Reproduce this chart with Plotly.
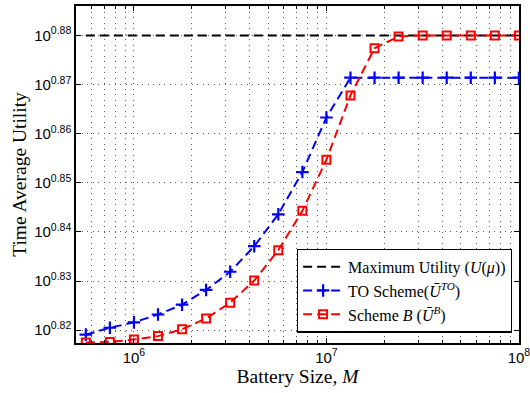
import numpy as np
import plotly.graph_objects as go

# Battery sizes M (log-spaced, 10^5.75 ... 10^8)
battery_exp = [5.75, 5.875, 6.0, 6.125, 6.25, 6.375, 6.5, 6.625, 6.75, 6.875,
               7.0, 7.125, 7.25, 7.375, 7.5, 7.625, 7.75, 7.875, 8.0]
battery_size = [10 ** e for e in battery_exp]

# Time average utility, stored as log10 exponents
max_utility_exp = [0.88] * len(battery_exp)
to_scheme_exp = [0.8191, 0.8205, 0.8216, 0.8232, 0.8252, 0.8282, 0.8319, 0.8371,
                 0.8436, 0.8522, 0.8633, 0.8714, 0.8714, 0.8714, 0.8714, 0.8714,
                 0.8714, 0.8714, 0.8714]
scheme_b_exp = [0.8175, 0.8176, 0.8181, 0.8188, 0.8202, 0.8224, 0.8256, 0.8301,
                0.8363, 0.8443, 0.8547, 0.8678, 0.8774, 0.8798, 0.88, 0.88,
                0.88, 0.88, 0.88]

y_tick_exp = [0.82, 0.83, 0.84, 0.85, 0.86, 0.87, 0.88]
x_tick_exp = [6, 7, 8]

serif = "Liberation Serif, DejaVu Serif, serif"
sans = "Liberation Sans, Arial, sans-serif"
dash = "9px,5px"
grid_color = "#5a5a5a"
grid_dash = "1px,4.5px"

fig = go.Figure()
fig.add_trace(go.Scatter(
    x=battery_size, y=[10 ** v for v in max_utility_exp], mode="lines",
    line=dict(color="black", width=2, dash=dash),
    name="Maximum Utility (<i>U</i>(<i>μ</i>))"))
fig.add_trace(go.Scatter(
    x=battery_size, y=[10 ** v for v in to_scheme_exp], mode="lines+markers",
    line=dict(color="#0000ff", width=2, dash=dash),
    marker=dict(symbol="cross-thin", size=9, line=dict(color="#0000ff", width=2.2)),
    name="TO Scheme(<i>U\u0304</i><sup><i>TO</i></sup>)"))
fig.add_trace(go.Scatter(
    x=battery_size, y=[10 ** v for v in scheme_b_exp], mode="lines+markers",
    line=dict(color="#ff0000", width=2, dash=dash),
    marker=dict(symbol="square-open", size=8, color="#ff0000", line=dict(color="#ff0000", width=2)),
    name="Scheme <i>B</i> (<i>U\u0304</i><sup><i>B</i></sup>)"))

minor_x = [m * 10 ** d for d in (5, 6, 7) for m in range(2, 10) if 5e5 <= m * 10 ** d <= 1e8]

fig.update_xaxes(
    type="log", range=[np.log10(5e5), 8.0005],
    tickmode="array", tickvals=[10 ** e for e in x_tick_exp],
    ticktext=[f"10<sup>{e}</sup>" for e in x_tick_exp],
    tickfont=dict(family=sans, size=15, color="black"),
    ticklabeloverflow="allow", automargin=False,
    ticks="inside", ticklen=5, tickcolor="black",
    showline=True, linecolor="black", linewidth=1.5, mirror="allticks",
    showgrid=True, gridcolor=grid_color, griddash=grid_dash, gridwidth=1,
    minor=dict(tickmode="array", tickvals=minor_x, ticks="inside", ticklen=3,
               tickcolor="black", showgrid=True, gridcolor=grid_color,
               griddash=grid_dash, gridwidth=1),
    title=dict(text="Battery Size, <i>M</i>", font=dict(family=serif, size=19.5, color="black"),
               standoff=4),
    zeroline=False,
)
fig.update_yaxes(
    type="log", range=[0.8174, 0.886],
    tickmode="array", tickvals=[10 ** e for e in y_tick_exp],
    ticktext=[f"10<sup>{e:.2f}</sup>" for e in y_tick_exp],
    tickfont=dict(family=sans, size=15, color="black"),
    ticks="inside", ticklen=5, tickcolor="black",
    showline=True, linecolor="black", linewidth=1.5, mirror="allticks",
    showgrid=True, gridcolor=grid_color, griddash=grid_dash, gridwidth=1,
    title=dict(text="Time Average Utility", font=dict(family=serif, size=19.5, color="black"),
               standoff=2),
    zeroline=False,
)

fig.update_layout(
    width=530, height=393,
    margin=dict(l=76, r=11, t=6, b=50),
    paper_bgcolor="white", plot_bgcolor="white",
    legend=dict(x=0.984, y=0.031, xanchor="right", yanchor="bottom",
                bgcolor="white", bordercolor="black", borderwidth=1.2,
                font=dict(family=serif, size=16, color="black"),
                itemwidth=40, tracegroupgap=4),
)

fig.write_html("out.html")
